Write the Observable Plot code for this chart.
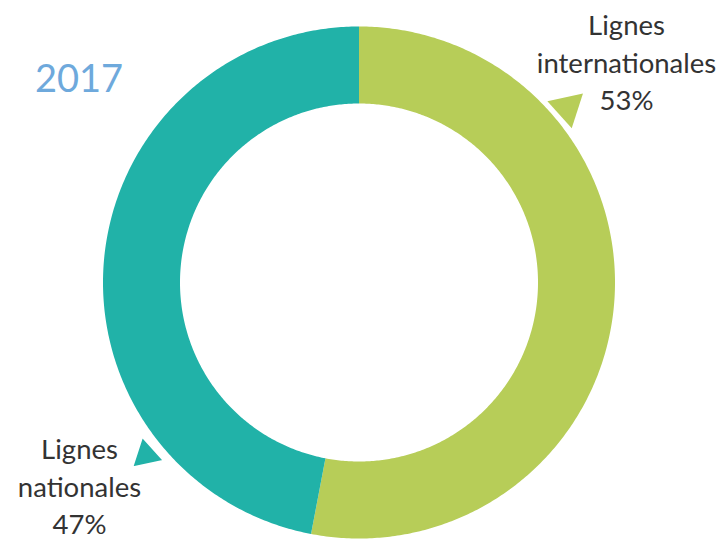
<!DOCTYPE html>
<html>
<head>
<meta charset="utf-8">
<script src="https://cdn.jsdelivr.net/npm/d3@7"></script>
<script src="https://cdn.jsdelivr.net/npm/@observablehq/plot@0.6"></script>
<style>
  html, body { margin: 0; padding: 0; background: #fff; }
  #chart svg { display: block; }
</style>
</head>
<body>
<div id="chart"></div>
<script>
// ---- data ----
const categories = ["Lignes internationales", "Lignes nationales"];
const values = [53, 47];
const labelLines = [["Lignes", "internationales", "53%"], ["Lignes", "nationales", "47%"]];
const year = "2017";

// ---- layout constants ----
const W = 722, H = 542;
const CX = 358.5, CY = 282;        // ring centre in px
const R_OUT = 256, R_IN = 179;
const colors = ["#b7cd58", "#21b2a8"];

const pie = d3.pie().sort(null).value(d => d.value);
const arcs = pie(categories.map((c, i) => ({category: c, value: values[i]})));

// polygon points for each slice (angle measured clockwise from top)
const pts = [];
for (const a of arcs) {
  const n = Math.max(8, Math.ceil((a.endAngle - a.startAngle) / 0.01));
  const ring = [];
  for (let k = 0; k <= n; k++) {
    const t = a.startAngle + (a.endAngle - a.startAngle) * k / n;
    ring.push([R_OUT * Math.sin(t), R_OUT * Math.cos(t)]);
  }
  for (let k = n; k >= 0; k--) {
    const t = a.startAngle + (a.endAngle - a.startAngle) * k / n;
    ring.push([R_IN * Math.sin(t), R_IN * Math.cos(t)]);
  }
  for (const [x, y] of ring) pts.push({category: a.data.category, x, y});
}

// pointer triangles (polar placement, degrees clockwise from top)
const deg = Math.PI / 180;
const pointerPolar = [{r: 272, a: 50, rotate: 48, size: 13.5}, {r: 274, a: 231, rotate: -12, size: 12}];
const pointers = categories.map((c, i) => ({
  category: c,
  x: pointerPolar[i].r * Math.sin(pointerPolar[i].a * deg),
  y: pointerPolar[i].r * Math.cos(pointerPolar[i].a * deg),
  rotate: pointerPolar[i].rotate,
  size: pointerPolar[i].size
}));

// label placement (px in chart frame)
const labelPos = [{x: 626, y: 60}, {x: 79, y: 484}];
const labels = categories.map((c, i) => ({
  x: labelPos[i].x - CX, y: CY - labelPos[i].y, text: labelLines[i].join("\n")
}));

const plot = Plot.plot({
  width: W, height: H,
  margin: 0,
  style: {background: "#fff", fontFamily: "Lato, 'Open Sans', sans-serif"},
  x: {domain: [-CX, W - CX], axis: null},
  y: {domain: [CY - H, CY], axis: null},
  r: {type: "identity"},
  color: {domain: categories, range: colors},
  marks: [
    Plot.line(pts, {x: "x", y: "y", z: "category", fill: "category", stroke: null, curve: "linear-closed"}),
    Plot.dot(pointers, {x: "x", y: "y", symbol: "triangle", r: "size", rotate: "rotate", fill: "category", stroke: (d, i) => i === 1 ? "#fff" : "none", strokeWidth: 2}),
    Plot.text(labels, {x: "x", y: "y", text: "text", fontSize: 27.5, lineHeight: 1.37, fill: "#333", textAnchor: "middle"}),
    Plot.text([year], {x: [78.5 - CX], y: [CY - 79], text: d => d, fontSize: 38, fill: "#6ea9dc", textAnchor: "middle"})
  ]
});
document.getElementById("chart").append(plot);
</script>
</body>
</html>
